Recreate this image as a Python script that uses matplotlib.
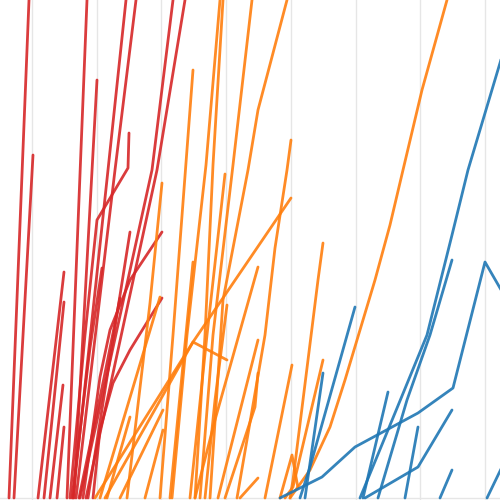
import numpy as np
import matplotlib
matplotlib.use('Agg')
import matplotlib.pyplot as plt

# x: distance from first grid line, y: height above baseline
red_x = [
    [-23, -3], [-18, 1], [35, 55], [42, 65],
    [41, 76, 94], [44, 83, 104], [48, 120, 141], [54, 125, 153],
    [38, 53, 65, 96, 97], [6, 32], [12, 32], [18, 31], [25, 32],
    [56, 98], [51, 68, 78, 98, 130], [61, 68, 81, 98, 130],
    [40, 58, 70], [47, 72, 88],
]
red_y = [
    [0, 498], [0, 343], [0, 498], [0, 418],
    [0, 328, 498], [0, 328, 498], [0, 328, 498], [0, 328, 498],
    [0, 163, 278, 330, 365], [0, 226], [0, 196], [0, 113], [0, 71],
    [0, 266], [0, 121, 168, 218, 266], [0, 68, 115, 148, 200],
    [0, 150, 230], [0, 120, 200],
]

orange_x = [
    [258, 278, 298, 313, 328, 343, 358, 371, 390, 415],
    [128, 141, 161], [140, 155, 174, 188], [163, 173, 181, 191],
    [168, 181, 201, 220], [178, 191, 216, 226, 255], [205, 233, 243, 255, 259],
    [158, 175, 193], [63, 161, 259], [73, 161, 195], [95, 118, 130],
    [138, 161], [163, 183, 226], [186, 193, 226], [193, 223, 226],
    [233, 260], [208, 226], [258, 261, 286, 291], [253, 261, 291],
    [248, 260, 266], [68, 128], [75, 98], [113, 131], [173, 183, 195],
    [88, 131],
]
orange_y = [
    [0, 28, 71, 118, 168, 218, 273, 328, 408, 498],
    [0, 163, 428], [0, 163, 333, 498], [0, 163, 333, 498],
    [0, 163, 333, 498], [0, 198, 328, 388, 498], [0, 163, 250, 328, 358],
    [0, 163, 324], [0, 156, 300], [0, 156, 138], [0, 195, 315],
    [0, 236], [0, 78, 231], [0, 28, 158], [0, 91, 125],
    [0, 133], [0, 20], [0, 18, 218, 255], [0, 11, 138],
    [0, 43, 10], [0, 201], [0, 81], [0, 68], [0, 98, 193],
    [0, 88],
]

blue_x = [
    [328, 363, 395, 420, 436, 468, 483],
    [346, 375, 398, 420],
    [248, 290, 323, 386, 421, 453, 468, 483],
    [268, 278, 323], [273, 291], [331, 356], [333, 386, 420],
    [373, 386], [408, 420], [455, 483],
]
blue_y = [
    [0, 85, 163, 263, 328, 435, 488],
    [0, 98, 163, 238],
    [0, 21, 51, 85, 110, 236, 210, 184],
    [0, 31, 191], [0, 125], [0, 106], [0, 31, 88],
    [0, 71], [0, 28], [0, 58],
]

groups = [
    (red_x, red_y, '#d62728'),
    (orange_x, orange_y, '#ff7f0e'),
    (blue_x, blue_y, '#1f77b4'),
]

fig = plt.figure(figsize=(5, 5), dpi=100)
ax = fig.add_axes([0, 0, 1, 1])

for xs, ys, color in groups:
    for x, y in zip(xs, ys):
        ax.plot(x, y, color=color, lw=2.0, alpha=0.9,
                solid_capstyle='round', solid_joinstyle='round')

ax.set_xlim(-32, 468)
ax.set_ylim(-2, 498)
ax.set_xticks(np.arange(0, 468, 64.7))
ax.set_yticks([0])
ax.grid(True, color='#e6e6e6', lw=1)
ax.set_axisbelow(True)
ax.tick_params(length=0, labelbottom=False, labelleft=False)
for s in ax.spines.values():
    s.set_visible(False)

fig.savefig('out.png', dpi=100)
